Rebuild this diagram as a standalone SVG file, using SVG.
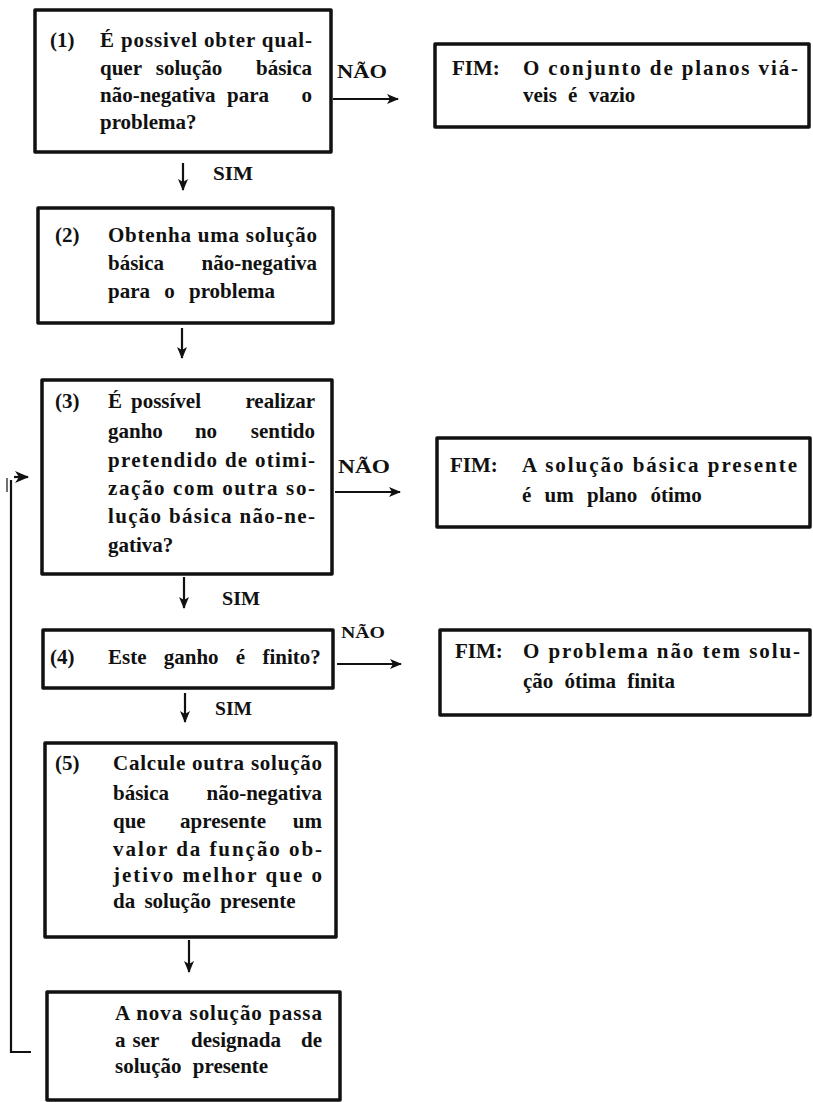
<svg xmlns="http://www.w3.org/2000/svg" width="813" height="1102" viewBox="0 0 813 1102">
<style>
.box{fill:#fff;stroke:#111;stroke-width:3.5;stroke-linejoin:round}
.t{font-family:"Liberation Serif","Times New Roman",serif;font-weight:bold;font-size:21px;fill:#111}
.lbl{font-family:"Liberation Serif","Times New Roman",serif;font-weight:bold;font-size:19px;fill:#111}
.m{text-anchor:middle}
.e{text-anchor:end}
.c{fill:none;stroke:#111;stroke-width:2.2}
</style>
<defs>
<marker id="ah" viewBox="0 0 12 10" refX="11" refY="5" markerWidth="12" markerHeight="10" markerUnits="userSpaceOnUse" orient="auto"><path d="M0,0 L12,5 L0,10 L3,5 Z" fill="#111"/></marker>
<marker id="ahb" viewBox="0 0 14 12" refX="13" refY="6" markerWidth="14" markerHeight="12" markerUnits="userSpaceOnUse" orient="auto"><path d="M0,0 L14,6 L0,12 L4,6 Z" fill="#111"/></marker>
</defs>
<rect width="813" height="1102" fill="#fff"/>

<g id="n1">
<rect class="box" x="35" y="10" width="296" height="142"/>
<text class="t" x="50" y="47">(1)</text>
<text class="t" x="100" y="47" textLength="212" lengthAdjust="spacing">É possivel obter qual-</text>
<text class="t" x="100" y="75">quer</text>
<text class="t m" x="189" y="75">solução</text>
<text class="t e" x="312" y="75">básica</text>
<text class="t" x="100" y="102">não-negativa</text>
<text class="t m" x="248" y="102">para</text>
<text class="t e" x="312" y="102">o</text>
<text class="t" x="100" y="129">problema?</text>
</g>

<g id="fim1">
<rect class="box" x="435" y="44" width="374" height="83"/>
<text class="t" x="452" y="75">FIM:</text>
<text class="t" x="523" y="75" textLength="275" lengthAdjust="spacing">O conjunto de planos viá-</text>
<text class="t" x="523" y="102" word-spacing="6">veis é vazio</text>
</g>

<g id="n2">
<rect class="box" x="38" y="208" width="295" height="115"/>
<text class="t" x="55" y="242">(2)</text>
<text class="t" x="108" y="242" textLength="209" lengthAdjust="spacing">Obtenha uma solução</text>
<text class="t" x="108" y="270">básica</text>
<text class="t e" x="317" y="270">não-negativa</text>
<text class="t" x="108" y="298" word-spacing="9">para o problema</text>
</g>

<g id="n3">
<rect class="box" x="42" y="380" width="290" height="194"/>
<text class="t" x="55" y="408">(3)</text>
<text class="t" x="108" y="408">É</text>
<text class="t m" x="166" y="408">possível</text>
<text class="t e" x="315" y="408">realizar</text>
<text class="t" x="108" y="438">ganho</text>
<text class="t m" x="206" y="438">no</text>
<text class="t e" x="315" y="438">sentido</text>
<text class="t" x="108" y="467" textLength="207" lengthAdjust="spacing">pretendido de otimi-</text>
<text class="t" x="108" y="495" textLength="207" lengthAdjust="spacing">zação com outra so-</text>
<text class="t" x="108" y="523" textLength="207" lengthAdjust="spacing">lução básica não-ne-</text>
<text class="t" x="108" y="552">gativa?</text>
</g>

<g id="fim2">
<rect class="box" x="437" y="438" width="373" height="89"/>
<text class="t" x="450" y="472">FIM:</text>
<text class="t" x="522" y="472" textLength="275" lengthAdjust="spacing">A solução básica presente</text>
<text class="t" x="522" y="502" word-spacing="8">é um plano ótimo</text>
</g>

<g id="n4">
<rect class="box" x="43" y="630" width="290" height="58"/>
<text class="t" x="50" y="664">(4)</text>
<text class="t" x="108" y="664" word-spacing="12">Este ganho é finito?</text>
</g>

<g id="fim3">
<rect class="box" x="440" y="630" width="370" height="85"/>
<text class="t" x="455" y="658">FIM:</text>
<text class="t" x="523" y="658" textLength="277" lengthAdjust="spacing">O problema não tem solu-</text>
<text class="t" x="523" y="688" word-spacing="6">ção ótima finita</text>
</g>

<g id="n5">
<rect class="box" x="45" y="743" width="291" height="194"/>
<text class="t" x="55" y="770">(5)</text>
<text class="t" x="113" y="770" textLength="209" lengthAdjust="spacing">Calcule outra solução</text>
<text class="t" x="113" y="800">básica</text>
<text class="t e" x="322" y="800">não-negativa</text>
<text class="t" x="113" y="828">que</text>
<text class="t m" x="223" y="828">apresente</text>
<text class="t e" x="322" y="828">um</text>
<text class="t" x="113" y="856" textLength="209" lengthAdjust="spacing">valor da função ob-</text>
<text class="t" x="113" y="882" textLength="209" lengthAdjust="spacing">jetivo melhor que o</text>
<text class="t" x="113" y="908" word-spacing="4">da solução presente</text>
</g>

<g id="n6">
<rect class="box" x="47" y="992" width="293" height="108"/>
<text class="t" x="115" y="1020" textLength="207" lengthAdjust="spacing">A nova solução passa</text>
<text class="t" x="115" y="1047">a</text>
<text class="t m" x="146" y="1047">ser</text>
<text class="t m" x="236" y="1047">designada</text>
<text class="t e" x="322" y="1047">de</text>
<text class="t" x="115" y="1073" word-spacing="6">solução presente</text>
</g>

<g id="connectors">
<path class="c" d="M333,99 H398" marker-end="url(#ah)"/>
<text class="lbl" x="337" y="78" textLength="50" lengthAdjust="spacingAndGlyphs">NÃO</text>
<path class="c" d="M183,163 V190" marker-end="url(#ah)"/>
<text class="lbl" x="213" y="180" textLength="40" lengthAdjust="spacingAndGlyphs">SIM</text>
<path class="c" d="M182,328 V358" marker-end="url(#ah)"/>
<path class="c" d="M335,492 H400" marker-end="url(#ah)"/>
<text class="lbl" x="338" y="473" textLength="52" lengthAdjust="spacingAndGlyphs">NÃO</text>
<path class="c" d="M184,577 V608" marker-end="url(#ah)"/>
<text class="lbl" x="222" y="605" textLength="38" lengthAdjust="spacingAndGlyphs">SIM</text>
<path class="c" d="M337,664 H401" marker-end="url(#ah)"/>
<text class="lbl" x="341" y="638" style="font-size:17px" textLength="44" lengthAdjust="spacingAndGlyphs">NÃO</text>
<path class="c" d="M185,693 V722" marker-end="url(#ah)"/>
<text class="lbl" x="215" y="715" textLength="37" lengthAdjust="spacingAndGlyphs">SIM</text>
<path class="c" d="M189,940 V972" marker-end="url(#ah)"/>
<path class="c" d="M31,1052 H11 V480"/>
<path class="c" d="M7,478 V492" style="stroke-width:1.2"/>
<path class="c" d="M14,477 H28" marker-end="url(#ahb)"/>
</g>
</svg>
